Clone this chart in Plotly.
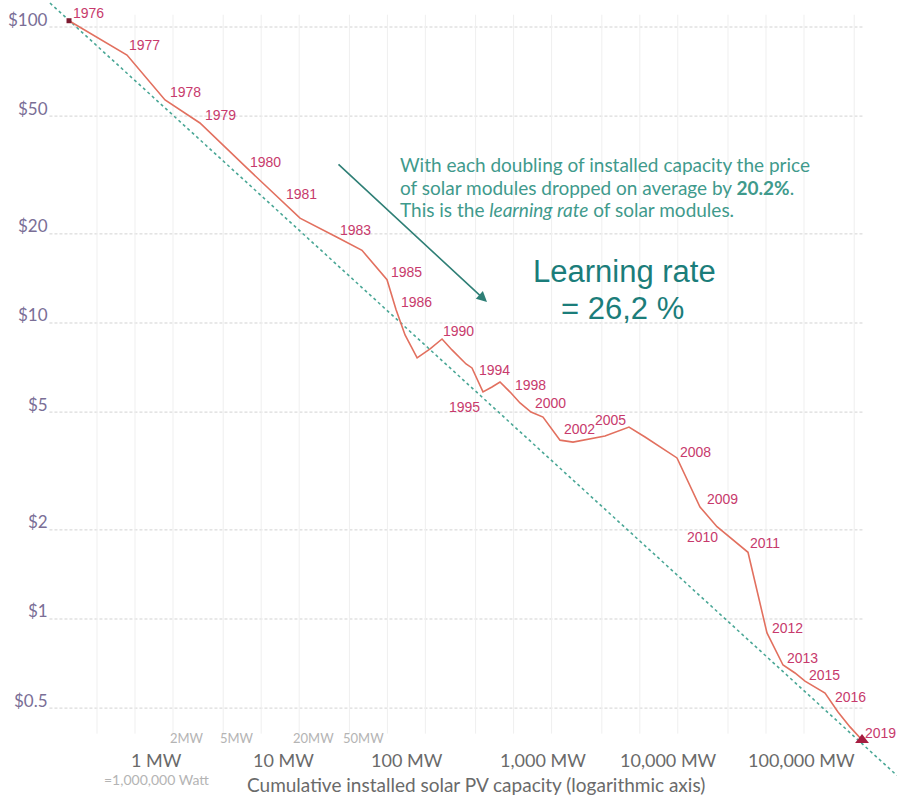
import numpy as np
import plotly.graph_objects as go

# Solar PV module price vs. cumulative installed capacity (experience curve)
years = list(range(1976, 2020))
capacity_mw = [0.30, 0.864, 1.73, 3.27, 7.58, 14.9, 20.3, 40.6, 62.9, 99.3,
               117, 138, 172, 218, 271, 325, 376, 420, 468, 572,
               674, 780, 954, 1124, 1374, 1710, 2332, 2956, 5300, 8210,
               11000, 14720, 19710, 29990, 40900, 72000, 101800, 136400, 169700, 203700,
               293500, 372000, 463000, 576500]
price_usd = [105, 80.4, 56.7, 47.4, 33.6, 25.6, 22.6, 19.4, 17.6, 14.0,
             11.1, 9.11, 7.62, 8.17, 8.83, 8.11, 7.62, 7.27, 7.05, 5.85,
             6.08, 6.32, 5.80, 5.37, 5.00, 4.81, 4.02, 3.96, 4.15, 4.45,
             4.12, 3.81, 3.50, 2.39, 2.05, 1.68, 0.897, 0.699, 0.657, 0.617,
             0.562, 0.485, 0.432, 0.390]

# Fitted learning curve (endpoints)
trend_mw = [0.212, 1.09e6]
trend_price = [120.5, 0.296]

# Axis ticks
price_ticks = [100, 50, 20, 10, 5, 2, 1, 0.5]
price_tick_text = ["$100", "$50", "$20", "$10", "$5", "$2", "$1", "$0.5"]
major_mw_ticks = [1, 10, 100, 1000, 10000, 100000]
major_mw_text = ["1 MW", "10 MW", "100 MW", "1,000 MW", "10,000 MW", "100,000 MW"]
minor_mw_ticks = [2, 5, 20, 50]
minor_mw_text = ["2MW", "5MW", "20MW", "50MW"]
vgrid_mw = [0.5] + [m * 10 ** e for e in range(0, 6) for m in (1, 2, 5)]

labelled_years = [1976, 1977, 1978, 1979, 1980, 1981, 1983, 1985, 1986, 1990,
                  1994, 1995, 1998, 2000, 2002, 2005, 2008, 2009, 2010, 2011,
                  2012, 2013, 2015, 2016, 2019]

# label placement relative to its point: (x shift px, y shift px downwards, anchor)
label_style = {
    1976: (2, -8, "left"), 1977: (0, -10, "left"), 1978: (3, -8, "left"),
    1979: (3, -8, "left"), 1980: (2, -5, "left"), 1981: (1, -8, "left"),
    1983: (0, -8, "left"), 1985: (2, -8, "left"), 1986: (3, -8, "left"),
    1990: (-1, -8, "left"), 1994: (5, 2, "left"), 1995: (-1, 15, "right"),
    1998: (2, -8, "left"), 2000: (2, -9, "left"), 2002: (2, -11, "left"),
    2005: (-1, -7, "right"), 2008: (1, -6, "left"), 2009: (5, -8, "left"),
    2010: (3, 10, "right"), 2011: (0, -9, "left"), 2012: (3, -5, "left"),
    2013: (2, -7, "left"), 2015: (2, -6, "left"), 2016: (8, 4, "left"),
    2019: (1, -7, "left"),
}

W, H = 897, 796
X_RANGE = [-1.0697, 6.0380]
Y_RANGE = [-0.598, 2.0912]
GRID_X = [0.21, 5.9e5]
GRID_Y = [0.41, 110]

LINE_RED = "#e2705f"
LABEL_RED = "#c73a6c"
TEAL = "#3f9a8c"
LATO = "Lato, 'Open Sans', sans-serif"
ARIAL = "'Liberation Sans', Arial, sans-serif"

fig = go.Figure()

# gridlines, drawn as thin line traces on the log axes
hx, hy = [], []
for p in price_ticks:
    hx += [GRID_X[0], GRID_X[1], None]
    hy += [p, p, None]
fig.add_trace(go.Scatter(
    x=hx, y=hy, mode="lines", hoverinfo="skip", showlegend=False,
    line=dict(color="#d2d2d2", width=1, dash="3px,2px"),
))
vx, vy = [], []
for m in vgrid_mw:
    vx += [m, m, None]
    vy += [GRID_Y[0], GRID_Y[1], None]
fig.add_trace(go.Scatter(
    x=vx, y=vy, mode="lines", hoverinfo="skip", showlegend=False,
    line=dict(color="#efefef", width=1),
))

# trend line
fig.add_trace(go.Scatter(
    x=trend_mw, y=trend_price, mode="lines",
    line=dict(color="#4aa796", width=1.6, dash="dot"),
    hoverinfo="skip", showlegend=False,
))

# price line
fig.add_trace(go.Scatter(
    x=capacity_mw, y=price_usd, mode="lines",
    line=dict(color=LINE_RED, width=1.6),
    text=[str(y) for y in years], showlegend=False,
))

# start and end markers
fig.add_trace(go.Scatter(
    x=[capacity_mw[0]], y=[price_usd[0]], mode="markers",
    marker=dict(symbol="square", size=5, color="#7d1a30"),
    showlegend=False, cliponaxis=False,
))
fig.add_trace(go.Scatter(
    x=[capacity_mw[-1]], y=[price_usd[-1]], mode="markers",
    marker=dict(symbol="triangle-up", size=12, color="#a61d40"),
    showlegend=False, cliponaxis=False,
))

annotations = []
# y tick labels
for p, t in zip(price_ticks, price_tick_text):
    annotations.append(dict(
        xref="paper", yref="y", x=50 / W, y=np.log10(p), yshift=8,
        text=t, showarrow=False, xanchor="right", yanchor="middle",
        font=dict(family=LATO, size=17, color="#7a6e96"),
    ))
# x tick labels
major_shift = [21, 22, 20, 29, 29, 35]
for m, t, s in zip(major_mw_ticks, major_mw_text, major_shift):
    annotations.append(dict(
        xref="x", yref="paper", x=np.log10(m), y=1 - 760 / H, xshift=s,
        text=t, showarrow=False, xanchor="center", yanchor="middle",
        font=dict(family=LATO, size=18, color="#6a6a6a"),
    ))
for m, t in zip(minor_mw_ticks, minor_mw_text):
    annotations.append(dict(
        xref="x", yref="paper", x=np.log10(m), y=1 - 738 / H, xshift=14,
        text=t, showarrow=False, xanchor="center", yanchor="middle",
        font=dict(family=LATO, size=13, color="#b4b4b4"),
    ))
annotations.append(dict(
    xref="x", yref="paper", x=0, y=1 - 779 / H, xshift=21,
    text="=1,000,000 Watt", showarrow=False, xanchor="center", yanchor="middle",
    font=dict(family=LATO, size=14, color="#b4b4b4"),
))
annotations.append(dict(
    xref="paper", yref="paper", x=476 / W, y=1 - 784 / H,
    text="Cumulative installed solar PV capacity (logarithmic axis)",
    showarrow=False, xanchor="center", yanchor="middle",
    font=dict(family=LATO, size=19, color="#6a6a6a"),
))

# year labels
for yr in labelled_years:
    i = years.index(yr)
    dx, dy, anchor = label_style[yr]
    annotations.append(dict(
        xref="x", yref="y", x=np.log10(capacity_mw[i]), y=np.log10(price_usd[i]),
        xshift=dx, yshift=-dy, text=str(yr), showarrow=False,
        xanchor=anchor, yanchor="middle",
        font=dict(family=ARIAL, size=14, color=LABEL_RED),
    ))

# explanatory note
note_lines = [
    "With each doubling of installed capacity the price",
    "of solar modules dropped on average by <b>20.2%</b>.",
    "This is the <i>learning rate</i> of solar modules.",
]
for k, line in enumerate(note_lines):
    annotations.append(dict(
        xref="paper", yref="paper", x=398 / W, y=1 - (164 + 23 * k) / H,
        text=line, showarrow=False, xanchor="left", yanchor="middle",
        font=dict(family=LATO, size=19, color=TEAL),
    ))

annotations.append(dict(
    xref="paper", yref="paper", x=624 / W, y=1 - 272 / H,
    text="Learning rate", showarrow=False, xanchor="center", yanchor="middle",
    font=dict(family=ARIAL, size=31, color="#1b7d7a"),
))
annotations.append(dict(
    xref="paper", yref="paper", x=622 / W, y=1 - 308 / H,
    text="= 26,2 %", showarrow=False, xanchor="center", yanchor="middle",
    font=dict(family=ARIAL, size=31, color="#1b7d7a"),
))

# arrow
annotations.append(dict(
    xref="paper", yref="paper", x=487 / W, y=1 - 302 / H,
    ax=-150, ay=-139, text="", showarrow=True,
    arrowhead=2, arrowsize=1.3, arrowwidth=1.6, arrowcolor="#2f7f76",
))

fig.update_layout(
    width=W, height=H,
    margin=dict(l=0, r=0, t=0, b=0),
    paper_bgcolor="white", plot_bgcolor="white",
    showlegend=False,
    xaxis=dict(type="log", range=X_RANGE, visible=False, fixedrange=True),
    yaxis=dict(type="log", range=Y_RANGE, visible=False, fixedrange=True),
    annotations=annotations,
)

fig.write_html("out.html")
